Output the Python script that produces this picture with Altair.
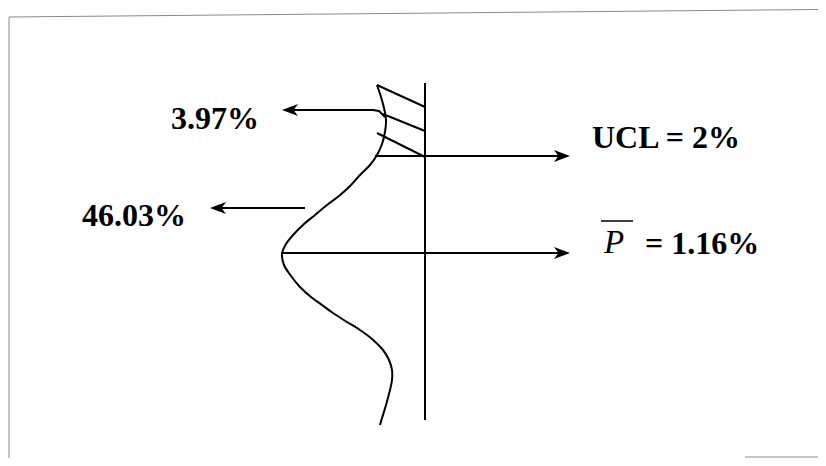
import altair as alt
import pandas as pd

# ---- values (picture pixel units) ----
# control-chart centre axis
axis_x = [425]
axis_y = [83]
axis_y2 = [420]

# sideways distribution curve, top to bottom
curve_x = [377, 381, 384, 386, 385, 382, 377, 370, 360, 350, 339, 327, 315, 304, 294, 286, 282,
           284, 291, 300, 311, 322, 333, 347, 360, 372, 383, 389, 392, 392, 390, 386, 382, 380]
curve_y = [85, 97, 108, 120, 132, 144, 155, 165, 175, 186, 196, 205, 215, 224, 234, 244, 254,
           265, 276, 287, 297, 305, 313, 322, 330, 339, 350, 360, 370, 380, 390, 405, 418, 425]

# hatching of the tail above UCL
hatch_x = [377, 383, 377]
hatch_y = [85, 114, 133]
hatch_x2 = [425, 425, 425]
hatch_y2 = [107, 131, 157]

# right-pointing arrows (UCL and P-bar)
right_start_x = [375, 281]
right_y = [156, 253]
right_end_x = [560, 560]
right_tip_x = [570, 570]

# left-pointing arrows (tail area and half area)
arrow397_x = [385, 379, 373, 294]
arrow397_y = [117, 111, 110, 110]
arrow4603_x = [305, 220]
arrow4603_y = [208, 208]
left_tip_x = [282, 210]
left_tip_y = [110, 208]

# labels
left_labels = ["3.97%", "46.03%"]
left_label_x = [259, 186]
left_label_y = [129, 226]
right_labels = ["UCL = 2%", "= 1.16%"]
right_label_x = [592, 645]
right_label_y = [148, 254]
pbar_label = ["P"]
pbar_x = [604]
pbar_y = [253]
overline_x = [601]
overline_x2 = [633]
overline_y = [221]

# frame of the scanned figure
frame_x = [9, 9, 745]
frame_y = [17, 17, 457]
frame_x2 = [9, 818, 818]
frame_y2 = [458, 9.5, 457]

# ---- chart ----
xs = alt.Scale(domain=[8, 818], nice=False, zero=False)
ys = alt.Scale(domain=[8, 458], reverse=True, nice=False, zero=False)

def X(f):
    return alt.X(f, type="quantitative", scale=xs, axis=None)

def Y(f):
    return alt.Y(f, type="quantitative", scale=ys, axis=None)

frame = alt.Chart(pd.DataFrame({"x": frame_x, "y": frame_y, "x2": frame_x2, "y2": frame_y2})).mark_rule(
    color="#8a8a8a", strokeWidth=1).encode(x=X("x"), y=Y("y"), x2="x2", y2="y2")

axis_line = alt.Chart(pd.DataFrame({"x": axis_x, "y": axis_y, "y2": axis_y2})).mark_rule(
    color="black", strokeWidth=2).encode(x=X("x"), y=Y("y"), y2="y2")

curve = alt.Chart(pd.DataFrame({"x": curve_x, "y": curve_y, "o": list(range(len(curve_x)))})).mark_line(
    color="black", strokeWidth=2, interpolate="cardinal").encode(x=X("x"), y=Y("y"), order="o:Q")

hatch = alt.Chart(pd.DataFrame({"x": hatch_x, "y": hatch_y, "x2": hatch_x2, "y2": hatch_y2})).mark_rule(
    color="black", strokeWidth=2).encode(x=X("x"), y=Y("y"), x2="x2", y2="y2")

right_lines = alt.Chart(pd.DataFrame({"x": right_start_x, "y": right_y, "x2": right_end_x})).mark_rule(
    color="black", strokeWidth=2).encode(x=X("x"), y=Y("y"), x2="x2")

right_heads = alt.Chart(pd.DataFrame({"x": right_tip_x, "y": right_y})).mark_point(
    shape="M0,0L-2,-0.75L-1.45,0L-2,0.75Z", filled=True, size=256, color="black", opacity=1,
    strokeWidth=0).encode(x=X("x"), y=Y("y"))

a397 = alt.Chart(pd.DataFrame({"x": arrow397_x, "y": arrow397_y, "o": list(range(len(arrow397_x)))})).mark_line(
    color="black", strokeWidth=2).encode(x=X("x"), y=Y("y"), order="o:Q")

a4603 = alt.Chart(pd.DataFrame({"x": arrow4603_x, "y": arrow4603_y, "o": [0, 1]})).mark_line(
    color="black", strokeWidth=2).encode(x=X("x"), y=Y("y"), order="o:Q")

left_heads = alt.Chart(pd.DataFrame({"x": left_tip_x, "y": left_tip_y})).mark_point(
    shape="M0,0L2,-0.75L1.45,0L2,0.75Z", filled=True, size=256, color="black", opacity=1,
    strokeWidth=0).encode(x=X("x"), y=Y("y"))

left_text = alt.Chart(pd.DataFrame({"t": left_labels, "x": left_label_x, "y": left_label_y})).mark_text(
    font="Liberation Serif", fontWeight="bold", fontSize=32, align="right", baseline="alphabetic",
    color="black").encode(x=X("x"), y=Y("y"), text="t:N")

right_text = alt.Chart(pd.DataFrame({"t": right_labels, "x": right_label_x, "y": right_label_y})).mark_text(
    font="Liberation Serif", fontWeight="bold", fontSize=32, align="left", baseline="alphabetic",
    color="black").encode(x=X("x"), y=Y("y"), text="t:N")

p_text = alt.Chart(pd.DataFrame({"t": pbar_label, "x": pbar_x, "y": pbar_y})).mark_text(
    font="Liberation Serif", fontStyle="italic", fontSize=33, align="left", baseline="alphabetic",
    color="black").encode(x=X("x"), y=Y("y"), text="t:N")

overline = alt.Chart(pd.DataFrame({"x": overline_x, "x2": overline_x2, "y": overline_y})).mark_rule(
    color="black", strokeWidth=1.5).encode(x=X("x"), y=Y("y"), x2="x2")

chart = alt.layer(
    frame, axis_line, curve, hatch, right_lines, right_heads, a397, a4603, left_heads,
    left_text, right_text, p_text, overline
).properties(
    width=810, height=450, padding=0, autosize=alt.AutoSizeParams(type="none"), background="white"
).configure_view(stroke=None)

chart.save("out.html", embed_options={"renderer": "svg", "actions": False})
